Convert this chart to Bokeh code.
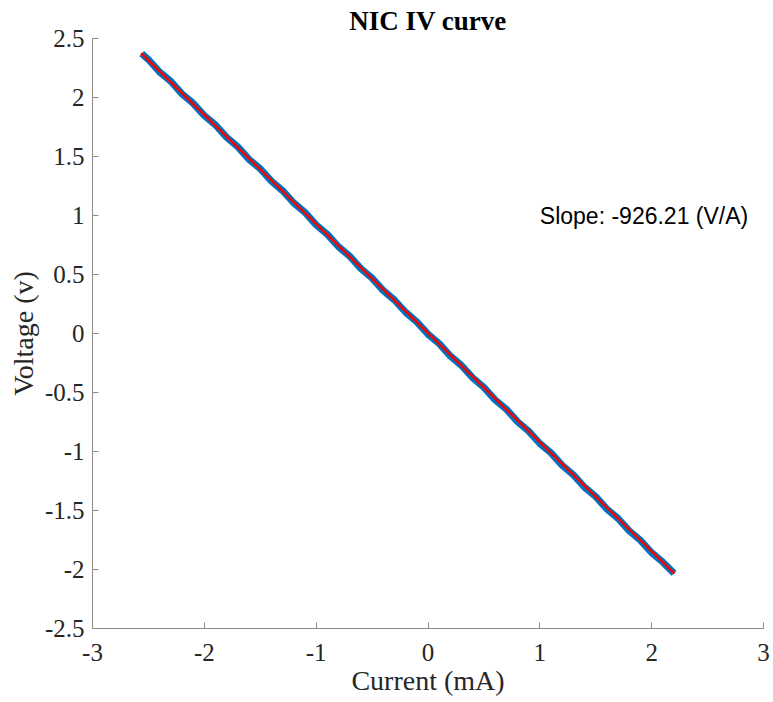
from bokeh.plotting import figure
from bokeh.models import Range1d, FixedTicker, Label
from bokeh.embed import file_html
from bokeh.resources import INLINE

# ---- data ----
current_ma = [-2.56, -2.50, -2.40, -2.30, -2.20, -2.10, -2.00, -1.90, -1.80, -1.70,
              -1.60, -1.50, -1.40, -1.30, -1.20, -1.10, -1.00, -0.90, -0.80, -0.70,
              -0.60, -0.50, -0.40, -0.30, -0.20, -0.10, 0.00, 0.10, 0.20, 0.30,
              0.40, 0.50, 0.60, 0.70, 0.80, 0.90, 1.00, 1.10, 1.20, 1.30,
              1.40, 1.50, 1.60, 1.70, 1.80, 1.90, 2.00, 2.10, 2.20]
voltage_v = [2.372, 2.322, 2.216, 2.138, 2.031, 1.951, 1.846, 1.767, 1.662, 1.581,
             1.475, 1.396, 1.291, 1.210, 1.106, 1.026, 0.920, 0.840, 0.735, 0.655,
             0.550, 0.469, 0.364, 0.284, 0.180, 0.099, -0.006, -0.086, -0.191, -0.271,
             -0.376, -0.457, -0.562, -0.641, -0.747, -0.827, -0.932, -1.012, -1.117, -1.198,
             -1.303, -1.382, -1.488, -1.568, -1.673, -1.753, -1.858, -1.938, -2.031]

fit_current = [-2.565, 2.205]
fit_voltage = [2.375, -2.035]

slope_text = "Slope: -926.21 (V/A)"
slope_pos = [1.0, 1.0]

x_ticks = [-3, -2, -1, 0, 1, 2, 3]
x_tick_labels = ["-3", "-2", "-1", "0", "1", "2", "3"]
y_ticks = [-2.5, -2, -1.5, -1, -0.5, 0, 0.5, 1, 1.5, 2, 2.5]
y_tick_labels = ["-2.5", "-2", "-1.5", "-1", "-0.5", "0", "0.5", "1", "1.5", "2", "2.5"]

SERIF = "Liberation Serif"
SANS = "Liberation Sans"

p = figure(width=773, height=702, output_backend="svg", toolbar_location=None,
           x_range=Range1d(-3, 3), y_range=Range1d(-2.5, 2.5),
           min_border_left=92, min_border_right=10, min_border_top=38, min_border_bottom=74)

p.title.text = "NIC IV curve"
p.title.align = "center"
p.title.text_font = SERIF
p.title.text_font_size = "27px"
p.title.text_font_style = "bold"
p.title.text_color = "#000000"
p.title.standoff = 5

p.outline_line_color = None
p.xgrid.grid_line_color = None
p.ygrid.grid_line_color = None
p.background_fill_color = "white"
p.border_fill_color = "white"

p.line(current_ma, voltage_v, line_color="#0072BD", line_width=7)
p.line(fit_current, fit_voltage, line_color="#FF0000", line_width=2.5)

p.add_layout(Label(x=slope_pos[0], y=slope_pos[1], text=slope_text,
                   text_font=SANS, text_font_size="23px", text_color="#000000",
                   text_align="left", text_baseline="middle"))

for ax, ticks, labels in ((p.xaxis[0], x_ticks, x_tick_labels), (p.yaxis[0], y_ticks, y_tick_labels)):
    ax.ticker = FixedTicker(ticks=ticks)
    ax.major_label_overrides = {t: l for t, l in zip(ticks, labels)}
    ax.minor_tick_line_color = None
    ax.major_tick_in = 6
    ax.major_tick_out = 0
    ax.axis_line_color = "#8a8a8a"
    ax.major_tick_line_color = "#8a8a8a"
    ax.major_label_text_font = SERIF
    ax.major_label_text_font_size = "25px"
    ax.major_label_text_color = "#262626"
    ax.axis_label_text_font = SERIF
    ax.axis_label_text_font_size = "28px"
    ax.axis_label_text_font_style = "normal"
    ax.axis_label_text_color = "#262626"

p.xaxis.axis_label = "Current (mA)"
p.yaxis.axis_label = "Voltage (v)"
p.xaxis.major_label_standoff = 15
p.xaxis.axis_label_standoff = 1
p.yaxis.major_label_standoff = 8
p.yaxis.axis_label_standoff = 3

open("out.html", "w").write(file_html(p, INLINE))
